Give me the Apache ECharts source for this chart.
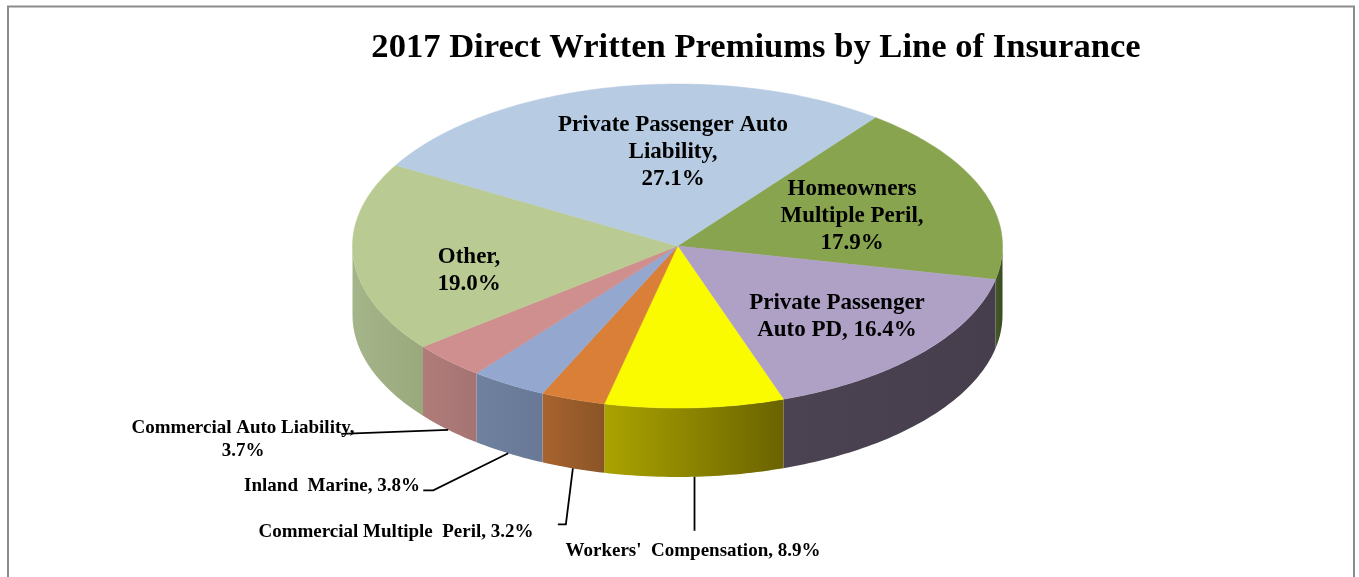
<!DOCTYPE html>
<html><head><meta charset="utf-8">
<style>html,body{margin:0;padding:0;background:#fff}#c{width:1359px;height:577px}</style>
<script src="https://cdn.jsdelivr.net/npm/echarts@6/dist/echarts.min.js"></script>
</head><body><div id="c"></div>
<script>
// ---- data (clockwise from the Homeowners slice) ----
const categories = ['Homeowners Multiple Peril', 'Private Passenger Auto PD', "Workers' Compensation", 'Commercial Multiple Peril', 'Inland Marine', 'Commercial Auto Liability', 'Other', 'Private Passenger Auto Liability'];
const shares = [17.9, 16.4, 8.9, 3.2, 3.8, 3.7, 19.0, 27.1];
const labelTexts = [
  'Homeowners\nMultiple Peril,\n17.9%',
  'Private Passenger\nAuto PD, 16.4%',
  "Workers'  Compensation, 8.9%",
  'Commercial Multiple  Peril, 3.2%',
  'Inland  Marine, 3.8%',
  'Commercial Auto Liability,\n3.7%',
  'Other,\n19.0%',
  'Private Passenger Auto\nLiability,\n27.1%'
];
// ---- styles and layout ----
const topColors = ['#88a44e', '#afa0c6', '#fbfb00', '#d97f38', '#93a7cf', '#cf8f8e', '#b9cb92', '#b7cbe2'];
const sideColors = [['#465a2a','#3a4b22'], ['#4b4352','#463e4c'], ['#aba300','#6a6300'], ['#a8632f','#8a5526'], ['#70809f','#687896'], ['#b07c7a','#a47472'], ['#a5b58a','#99a97c'], ['#8a9ab0','#8a9ab0']];
const startDeg = -52.5, depth = 69;
const labelPos = [[852,216],[837,317],[693,551],[396,532],[332,486],[243,440],[469,271],[673,152]];
const leaderOffsets = [null, null, [[0,54]], [[-7,56],[-15,56]], [[-75,37],[-85,37]], [[-107,4]], null, null];

let acc = 0;
const sliceData = shares.map((v, i) => { const a = acc; acc += v; return [startDeg + a * 3.6, startDeg + acc * 3.6, i]; });

function pt(api, deg) { const r = deg * Math.PI / 180; return api.coord([Math.cos(r), Math.sin(r)]); }
function arc(api, a, b) { const out = [], n = Math.max(2, Math.ceil(Math.abs(b - a))); for (let k = 0; k <= n; k++) out.push(pt(api, a + (b - a) * k / n)); return out; }

function renderSlice(params, api) {
  const a = api.value(0), b = api.value(1), i = api.value(2), kids = [];
  [[0,180],[360,540]].forEach(w => {
    const s = Math.max(a, w[0]), e = Math.min(b, w[1]);
    if (e > s) {
      const rim = arc(api, s, e), low = rim.slice().reverse().map(p => [p[0], p[1] + depth]);
      const [c0, c1] = sideColors[i];
      kids.push({ type: 'polygon', shape: { points: rim.concat(low) },
        style: { fill: new echarts.graphic.LinearGradient(0,0,1,0,[{offset:0,color:c0},{offset:1,color:c1}]), stroke: null } });
    }
  });
  const c = api.coord([0, 0]);
  kids.push({ type: 'polygon', shape: { points: [c].concat(arc(api, a, b)) },
    style: { fill: topColors[i], stroke: topColors[i], lineWidth: 0.5 } });
  return { type: 'group', children: kids };
}

function renderLabel(params, api) {
  const a = api.value(0), b = api.value(1), i = api.value(2), kids = [], outer = leaderOffsets[i];
  const small = i >= 2 && i <= 5, size = small ? 19 : 23;
  kids.push({ type: 'text', x: labelPos[i][0], y: labelPos[i][1],
    style: { text: labelTexts[i], fill: '#000', align: 'center', verticalAlign: 'middle',
      font: 'bold ' + size + 'px "Liberation Serif"', lineHeight: small ? 23 : 27 } });
  if (outer) {
    const m = pt(api, (a + b) / 2), p0 = [m[0], m[1] + depth];
    const pts = [p0].concat(outer.map(o => [p0[0] + o[0], p0[1] + o[1]]));
    kids.push({ type: 'polyline', shape: { points: pts }, style: { stroke: '#000', lineWidth: 1.8, fill: null } });
  }
  return { type: 'group', children: kids };
}

const chart = echarts.init(document.getElementById('c'), null, { renderer: 'canvas' });
chart.setOption({
  animation: false,
  backgroundColor: '#fff',
  title: { text: '2017 Direct Written Premiums by Line of Insurance', left: 751, top: 26, textAlign: 'center',
    textStyle: { fontFamily: 'Liberation Serif', fontWeight: 'bold', fontSize: 34.6, color: '#000' } },
  graphic: [{ type: 'polyline', shape: { points: [[8,577],[8,6.5],[1354,6.5],[1354,577]] }, style: { stroke: '#8c8c8c', lineWidth: 2, fill: null }, silent: true }],
  grid: { left: 352.5, top: 84, width: 650, height: 324, containLabel: false },
  xAxis: { type: 'value', min: -1, max: 1, show: false },
  yAxis: { type: 'value', min: -1, max: 1, inverse: true, show: false },
  series: [
    { type: 'custom', name: 'slices', coordinateSystem: 'cartesian2d', clip: false, silent: true, z: 2, data: sliceData, renderItem: renderSlice },
    { type: 'custom', name: 'labels', coordinateSystem: 'cartesian2d', clip: false, silent: true, z: 3, data: sliceData, renderItem: renderLabel }
  ]
});
</script></body></html>
